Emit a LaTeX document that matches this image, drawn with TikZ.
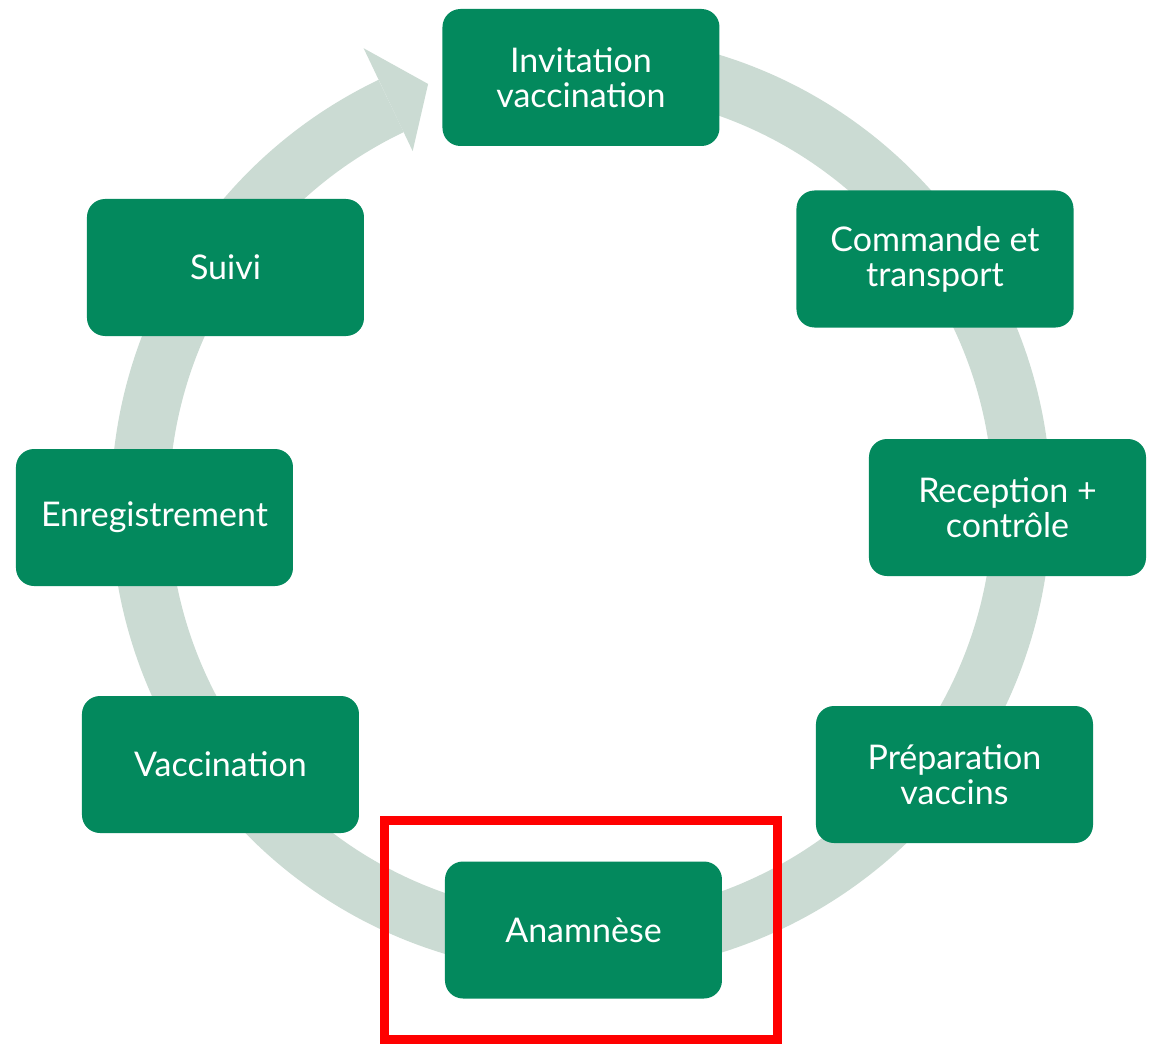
\documentclass[tikz,border=0pt]{standalone}
\usepackage{fontspec}
\setmainfont{Lato}
\definecolor{stepgreen}{HTML}{03895D}
\definecolor{ringgrey}{HTML}{CBDBD3}
\tikzset{etape/.style={fill=stepgreen, text=white, rounded corners=9pt,
    minimum width=138.5pt, minimum height=68.5pt, align=center, inner sep=0pt,
    font=\fontsize{17}{17.5}\selectfont}}

\begin{document}
\begin{tikzpicture}[x=0.5pt,y=0.5pt]
    \useasboundingbox (-581,504) rectangle (577,-541);
    \def\rayon{441}
    % anneau et fleche
    \draw[ringgrey, line width=29pt] (80:\rayon) arc[start angle=80, end angle=-244.5, radius=\rayon];
    \fill[ringgrey] (115.5:391) -- (110:447) -- (115.5:505) -- cycle;
    % etapes
    \node[etape] (inv) at (0,426.5) {Invitation\\vaccination};
    \node[etape] (cmd) at (354,245) {Commande et\\transport};
    \node[etape] (rec) at (426.5,-3.5) {Reception +\\contrôle};
    \node[etape] (prep) at (373.5,-270.5) {Préparation\\vaccins};
    \node[etape] (ana) at (2.5,-426) {Anamnèse};
    \node[etape] (vac) at (-360.5,-260.5) {Vaccination};
    \node[etape] (enr) at (-426.5,-13.5) {Enregistrement};
    \node[etape] (suivi) at (-355.5,236.5) {Suivi};
    % cadre rouge
    \draw[red, line width=4.5pt] (-196.5,-316.5) rectangle (197,-535);
\end{tikzpicture}
\end{document}
